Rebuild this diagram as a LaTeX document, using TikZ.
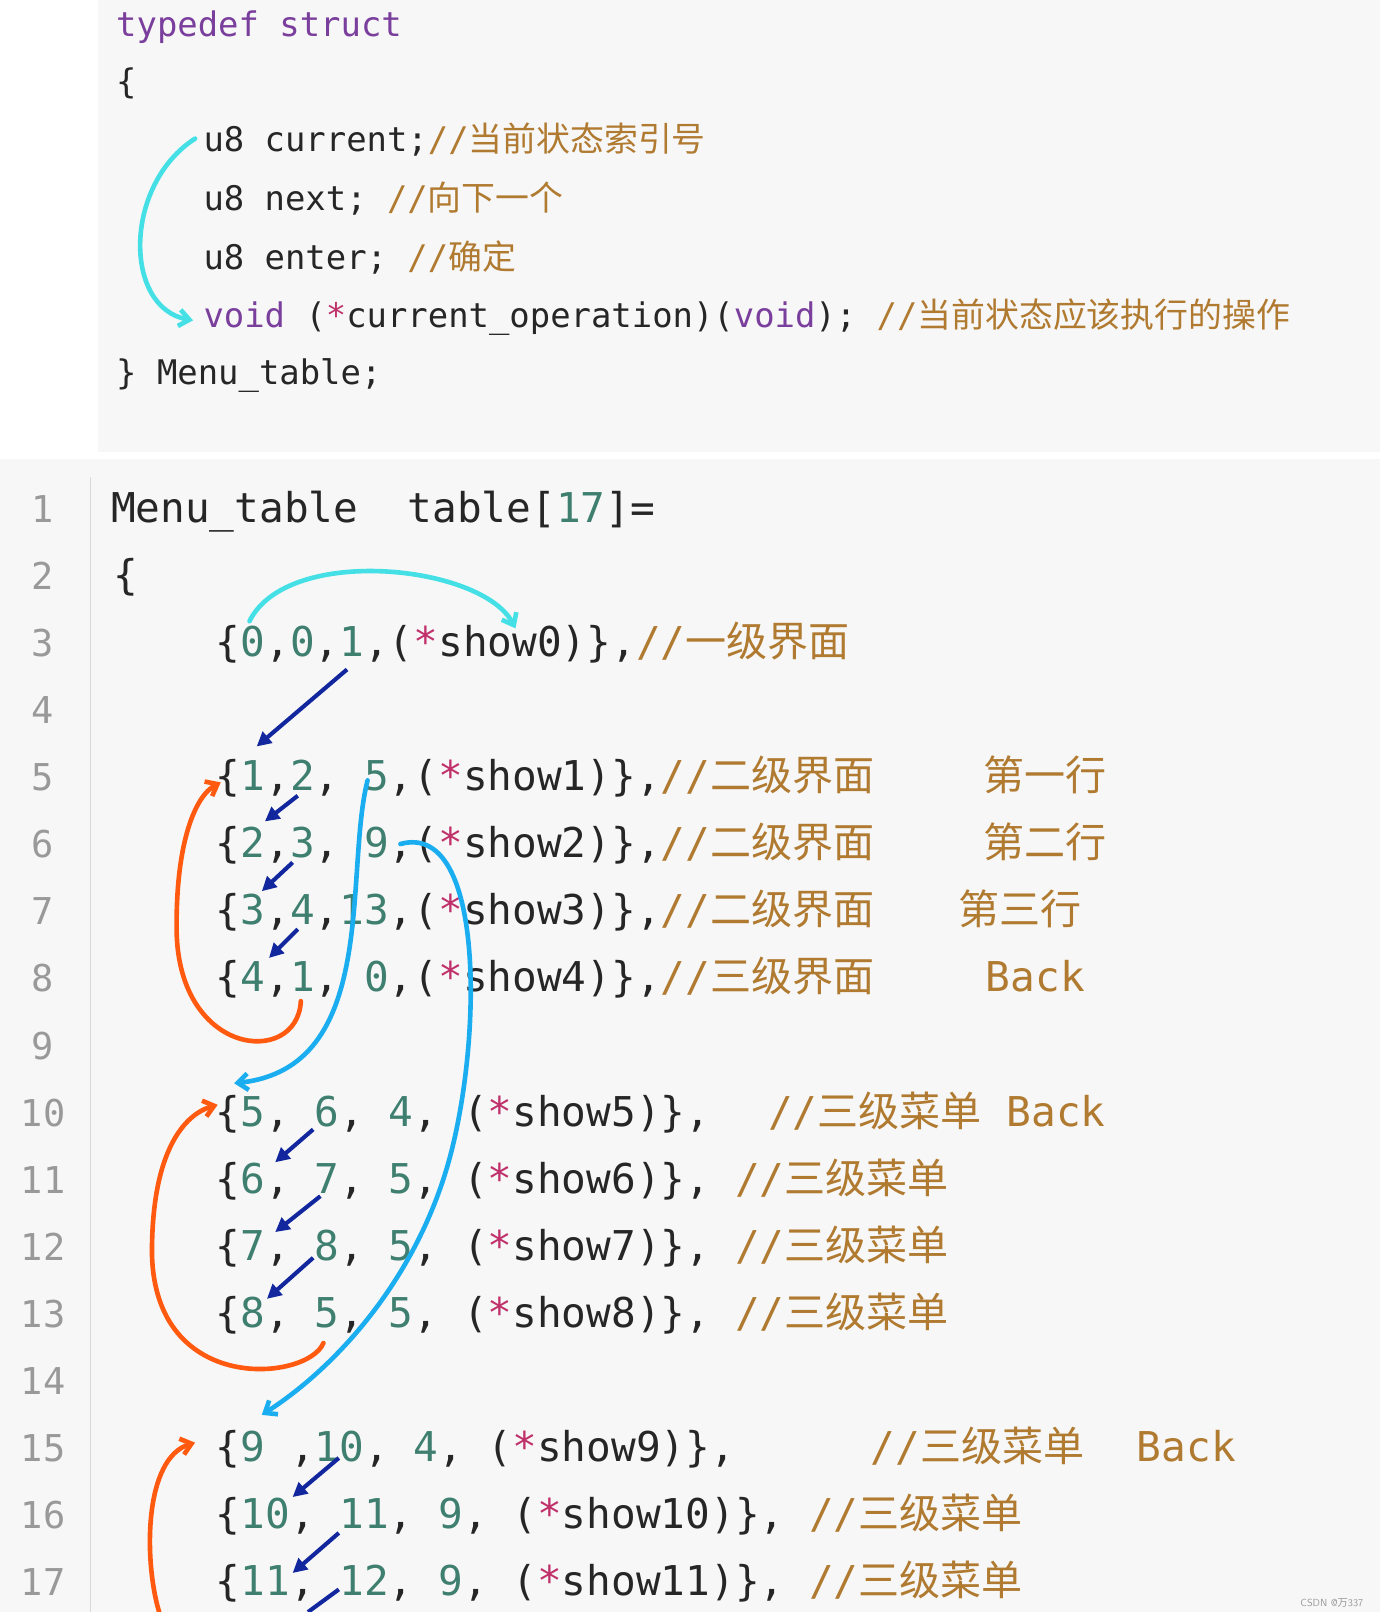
\documentclass[tikz,border=0pt]{standalone}
\usepackage{fontspec}
\setmonofont{DejaVu Sans Mono}
\newfontfamily\cjk{Noto Sans CJK SC}
\usetikzlibrary{arrows.meta}
\definecolor{kw}{HTML}{7A3E9D}
\definecolor{cm}{HTML}{B07A30}
\definecolor{nm}{HTML}{3F7F6F}
\definecolor{st}{HTML}{C0306A}
\definecolor{cyanA}{HTML}{45E0E6}
\definecolor{blueA}{HTML}{1AAEF0}
\definecolor{dblue}{HTML}{12279E}
\definecolor{oran}{HTML}{FF5A10}
\begin{document}
\begin{tikzpicture}[x=1pt,y=-1pt,
  top/.style={anchor=base west,inner sep=0,font=\fontsize{33}{33}\ttfamily,text=black!85},
  bot/.style={anchor=base west,inner sep=0,font=\fontsize{40}{40}\ttfamily,text=black!85},
  cmt/.style={anchor=base west,inner sep=0,font=\fontsize{40}{40}\ttfamily,text=cm},
  lnum/.style={anchor=base,inner sep=0,font=\fontsize{36}{36}\ttfamily,text=black!40},
  hand/.style={line width=4.5pt,line cap=round,-{Straight Barb[length=10pt,width=16pt]}},
  dar/.style={dblue,line width=4pt,-{Triangle[length=14pt,width=14pt]}}]
\useasboundingbox (0,0) rectangle (1344,1570);
\fill[black!3] (0,0) rectangle (1344,1570);
\fill[white] (0,0) rectangle (95,440);
\fill[white] (0,440) rectangle (1344,447);
\draw[black!15,line width=1pt] (88,465) -- (88,1570);
% top struct
\node[top] (t1) at (113,36) {\textcolor{kw}{typedef struct}};
\node[top] (t2) at (113,91) {\{};
\node[top] (t3) at (198,148) {u8 current;\textcolor{cm}{//{\cjk 当前状态索引号}}};
\node[top] (t4) at (198,205) {u8 next; \textcolor{cm}{//{\cjk 向下一个}}};
\node[top] (t5) at (198,262) {u8 enter; \textcolor{cm}{//{\cjk 确定}}};
\node[top] (t6) at (198,319) {\textcolor{kw}{void} (\textcolor{st}{*}current\_operation)(\textcolor{kw}{void}); \textcolor{cm}{//{\cjk 当前状态应该执行的操作}}};
\node[top] (t7) at (113,374) {\} Menu\_table;};
% line numbers
\foreach \n in {1,...,17}{\node[lnum] (ln\n) at (42,{509+(\n-1)*65.3}) {\n};}
\def\Y#1{{509+(#1-1)*65.3}}
\node[bot] (r1) at (108,\Y1) {Menu\_table~ table[\textcolor{nm}{17}]=};
\node[bot] (r2) at (110,\Y2) {\{};
\node[bot] (r3) at (210,\Y3) {\{\textcolor{nm}{0},\textcolor{nm}{0},\textcolor{nm}{1},(\textcolor{st}{*}show0)\},\textcolor{cm}{//{\cjk 一级界面}}};
\node[bot] (r5) at (210,\Y5) {\{\textcolor{nm}{1},\textcolor{nm}{2}, \textcolor{nm}{5},(\textcolor{st}{*}show1)\},\textcolor{cm}{//{\cjk 二级界面}}};
\node[bot] (r6) at (210,\Y6) {\{\textcolor{nm}{2},\textcolor{nm}{3}, \textcolor{nm}{9},(\textcolor{st}{*}show2)\},\textcolor{cm}{//{\cjk 二级界面}}};
\node[bot] (r7) at (210,\Y7) {\{\textcolor{nm}{3},\textcolor{nm}{4},\textcolor{nm}{13},(\textcolor{st}{*}show3)\},\textcolor{cm}{//{\cjk 二级界面}}};
\node[bot] (r8) at (210,\Y8) {\{\textcolor{nm}{4},\textcolor{nm}{1}, \textcolor{nm}{0},(\textcolor{st}{*}show4)\},\textcolor{cm}{//{\cjk 三级界面}}};
\node[cmt] (k5) at (958,\Y5) {\cjk 第一行};
\node[cmt] (k6) at (958,\Y6) {\cjk 第二行};
\node[cmt] (k7) at (933,\Y7) {\cjk 第三行};
\node[cmt] (k8) at (960,\Y8) {Back};
\node[bot] (r10) at (210,\Y{10}) {\{\textcolor{nm}{5}, \textcolor{nm}{6}, \textcolor{nm}{4}, (\textcolor{st}{*}show5)\},};
\node[cmt] (k10) at (748,\Y{10}) {//{\cjk 三级菜单} Back};
\node[bot] (r11) at (210,\Y{11}) {\{\textcolor{nm}{6}, \textcolor{nm}{7}, \textcolor{nm}{5}, (\textcolor{st}{*}show6)\}, \textcolor{cm}{//{\cjk 三级菜单}}};
\node[bot] (r12) at (210,\Y{12}) {\{\textcolor{nm}{7}, \textcolor{nm}{8}, \textcolor{nm}{5}, (\textcolor{st}{*}show7)\}, \textcolor{cm}{//{\cjk 三级菜单}}};
\node[bot] (r13) at (210,\Y{13}) {\{\textcolor{nm}{8}, \textcolor{nm}{5}, \textcolor{nm}{5}, (\textcolor{st}{*}show8)\}, \textcolor{cm}{//{\cjk 三级菜单}}};
\node[bot] (r15) at (210,\Y{15}) {\{\textcolor{nm}{9} ,\textcolor{nm}{10}, \textcolor{nm}{4}, (\textcolor{st}{*}show9)\},};
\node[cmt] (k15) at (848,\Y{15}) {//{\cjk 三级菜单}};
\node[cmt] (k15b) at (1107,\Y{15}) {Back};
\node[bot] (r16) at (210,\Y{16}) {\{\textcolor{nm}{10}, \textcolor{nm}{11}, \textcolor{nm}{9}, (\textcolor{st}{*}show10)\}, \textcolor{cm}{//{\cjk 三级菜单}}};
\node[bot] (r17) at (210,\Y{17}) {\{\textcolor{nm}{11}, \textcolor{nm}{12}, \textcolor{nm}{9}, (\textcolor{st}{*}show11)\}, \textcolor{cm}{//{\cjk 三级菜单}}};
\node[anchor=south east,inner sep=2pt,font=\fontsize{10}{10}\sffamily,text=black!40] (wm) at (1330,1568) {CSDN @{\cjk 万}337};
% hand-drawn arrows
\coordinate (c1) at (190,135); \coordinate (c2) at (188,312);
\draw[cyanA,hand] (c1) .. controls (120,180) and (120,300) .. (c2);
\coordinate (c3) at (243,605); \coordinate (c4) at (502,612);
\draw[cyanA,hand] (c3) .. controls (280,530) and (470,550) .. (c4);
\coordinate (o1) at (293,975); \coordinate (o2) at (215,762);
\draw[oran,hand] (o1) .. controls (290,1040) and (170,1030) .. (172,900) .. controls (172,820) and (190,775) .. (o2);
\coordinate (o3) at (315,1308); \coordinate (o4) at (212,1076);
\draw[oran,hand] (o3) .. controls (300,1345) and (150,1360) .. (148,1220) .. controls (148,1120) and (180,1085) .. (o4);
\coordinate (o5) at (155,1570); \coordinate (o6) at (190,1405);
\draw[oran,hand] (o5) .. controls (140,1520) and (140,1420) .. (o6);
\coordinate (b1) at (358,760); \coordinate (b2) at (228,1055);
\draw[blueA,hand] (b1) .. controls (335,850) and (370,1040) .. (b2);
\coordinate (b3) at (390,822); \coordinate (b4) at (255,1378);
\draw[blueA,hand] (b3) .. controls (470,800) and (470,1000) .. (440,1120) .. controls (410,1240) and (330,1330) .. (b4);
\coordinate (d1a) at (338,652); \coordinate (d1b) at (250,727); \draw[dar] (d1a) -- (d1b);
\coordinate (d2a) at (290,775); \coordinate (d2b) at (258,800); \draw[dar] (d2a) -- (d2b);
\coordinate (d3a) at (285,840); \coordinate (d3b) at (255,868); \draw[dar] (d3a) -- (d3b);
\coordinate (d4a) at (290,905); \coordinate (d4b) at (262,933); \draw[dar] (d4a) -- (d4b);
\coordinate (d5a) at (305,1100); \coordinate (d5b) at (268,1132); \draw[dar] (d5a) -- (d5b);
\coordinate (d6a) at (312,1165); \coordinate (d6b) at (268,1200); \draw[dar] (d6a) -- (d6b);
\coordinate (d7a) at (305,1225); \coordinate (d7b) at (260,1265); \draw[dar] (d7a) -- (d7b);
\coordinate (d8a) at (330,1420); \coordinate (d8b) at (285,1458); \draw[dar] (d8a) -- (d8b);
\coordinate (d9a) at (330,1493); \coordinate (d9b) at (285,1532); \draw[dar] (d9a) -- (d9b);
\coordinate (d10a) at (330,1548); \coordinate (d10b) at (300,1570); \draw[dblue,line width=4pt] (d10a) -- (d10b);
\end{tikzpicture}
\end{document}
